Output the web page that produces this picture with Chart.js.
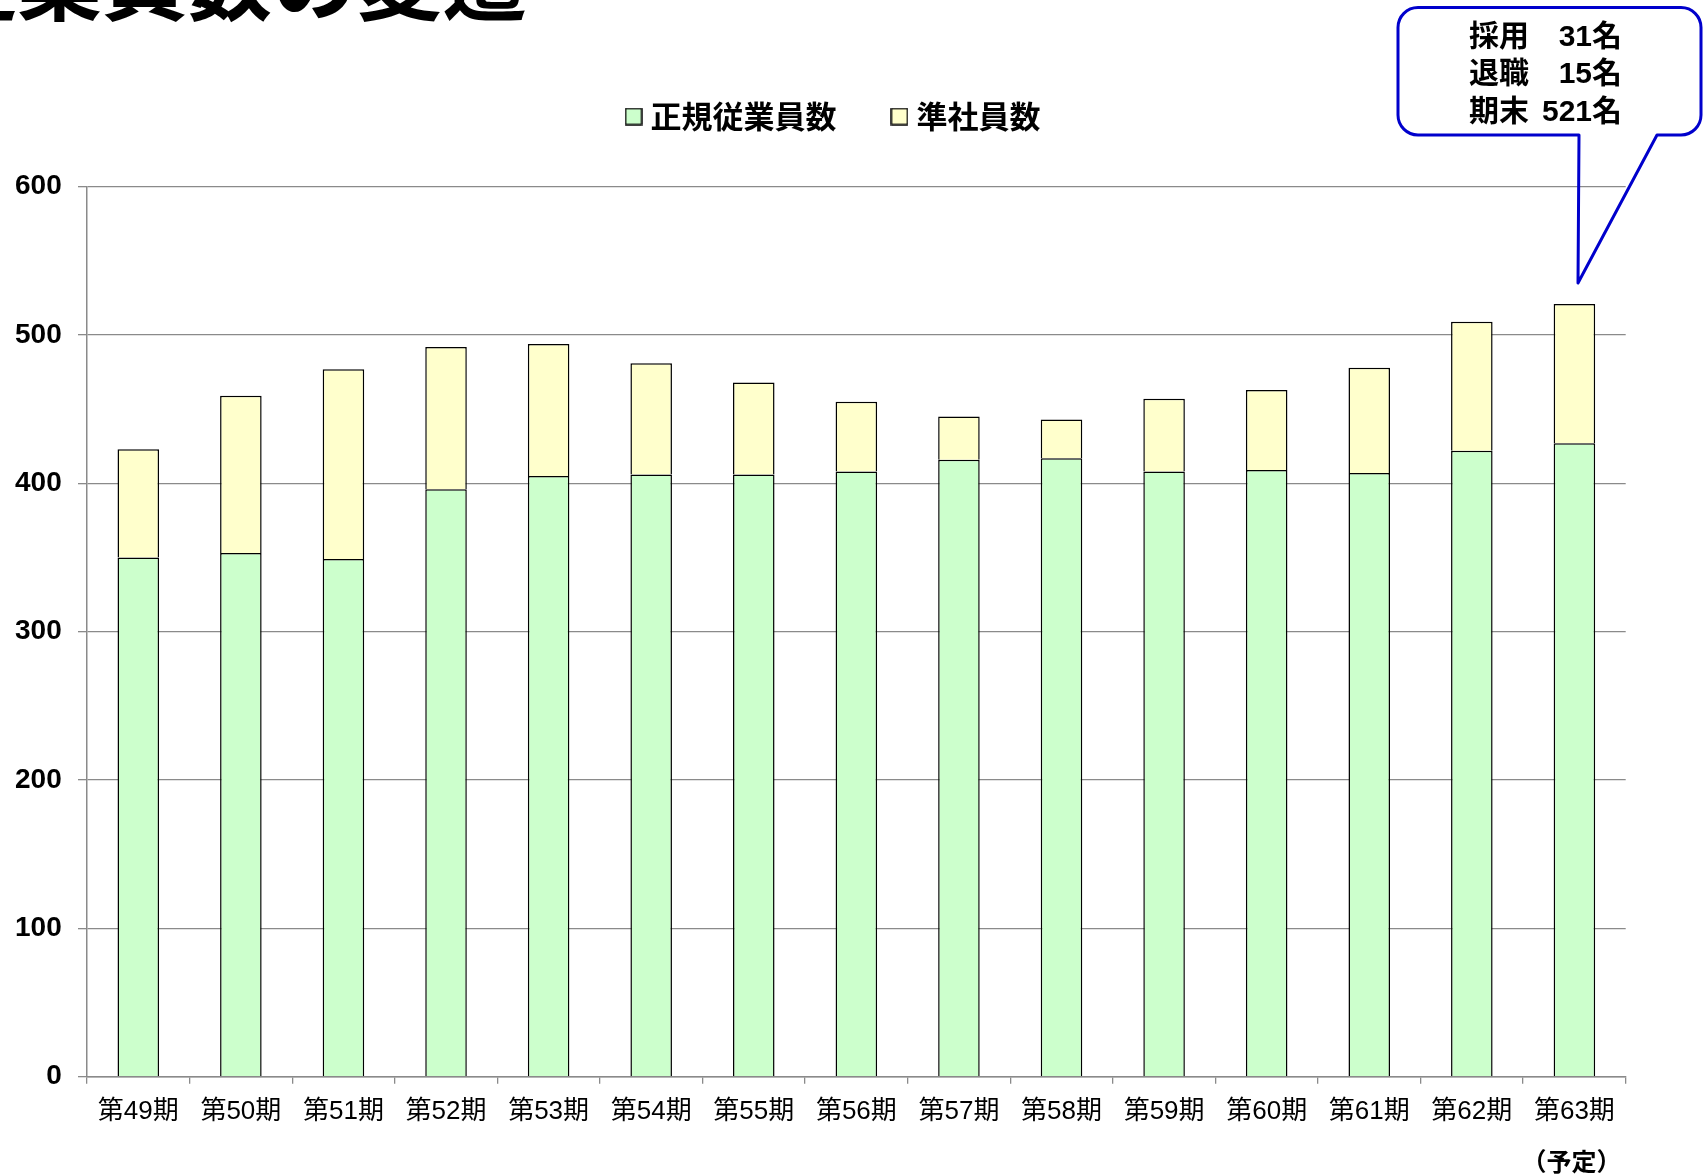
<!DOCTYPE html>
<html><head><meta charset="utf-8">
<script src="https://cdn.jsdelivr.net/npm/chart.js@4"></script>
<style>html,body{margin:0;padding:0;background:#fff}canvas{display:block}</style>
</head><body>
<canvas id="c" width="1704" height="1176"></canvas>
<script>
const categories = ['第49期','第50期','第51期','第52期','第53期','第54期','第55期','第56期','第57期','第58期','第59期','第60期','第61期','第62期','第63期'];
const regularStaff = [350,353,349,396,405,406,406,408,416,417,408,409,407,422,427];
const associateStaff = [73,106,128,96,89,75,62,47,29,26,49,54,71,87,94];
const seriesNames = ['正規従業員数','準社員数'];
const yTicks = [0,100,200,300,400,500,600];
const titleText = '従業員数の変遷';
const noteText = '（予定）';
const calloutLabels = ['採用','退職','期末'];
const calloutValues = ['31名','15名','521名'];

const GRID = '#8a8a8a';

function legendSwatch(fill) {
  const c = document.createElement('canvas');
  c.width = 18; c.height = 18;
  const g = c.getContext('2d');
  g.fillStyle = fill;
  g.fillRect(1, 1, 16, 16);
  g.lineWidth = 1.5;
  g.strokeStyle = '#000';
  g.strokeRect(1, 1, 16, 16);
  return c;
}

const legendSpacer = {
  id: 'legendSpacer',
  beforeLayout(chart) {
    const lg = chart.legend;
    if (lg && !lg._spaced) {
      const orig = lg.fit;
      lg.fit = function () { orig.call(this); this.height += 44.7; };
      lg._spaced = true;
    }
  },
  afterLayout(chart) {
    const lg = chart.legend;
    if (lg) { lg.left += 16.4; lg.right += 16.4; }
  }
};

const extras = {
  id: 'extras',
  afterDraw(chart) {
    const ctx = chart.ctx;
    const xs = chart.scales.x;
    ctx.save();
    ctx.fillStyle = '#000';
    ctx.font = 'bold 85px "Noto Sans CJK JP"';
    ctx.textAlign = 'left';
    ctx.textBaseline = 'alphabetic';
    ctx.fillText(titleText, -68, 14);
    ctx.font = 'bold 25px "Noto Sans CJK JP"';
    ctx.textAlign = 'center';
    ctx.textBaseline = 'middle';
    ctx.fillText(noteText, xs.getPixelForValue(categories.length - 1) - 3, xs.top + 84.5);
    const L = 1398, T = 7.5, R = 1701, B = 135, r = 20;
    const tipX = 1578, tipY = 283, baseL = 1579, baseR = 1657;
    ctx.beginPath();
    ctx.moveTo(L + r, T);
    ctx.lineTo(R - r, T);
    ctx.arcTo(R, T, R, T + r, r);
    ctx.lineTo(R, B - r);
    ctx.arcTo(R, B, R - r, B, r);
    ctx.lineTo(baseR, B);
    ctx.lineTo(tipX, tipY);
    ctx.lineTo(baseL, B);
    ctx.lineTo(L + r, B);
    ctx.arcTo(L, B, L, B - r, r);
    ctx.lineTo(L, T + r);
    ctx.arcTo(L, T, L + r, T, r);
    ctx.closePath();
    ctx.lineWidth = 3;
    ctx.strokeStyle = '#0000cc';
    ctx.lineJoin = 'round';
    ctx.stroke();
    ctx.fillStyle = '#000';
    ctx.font = 'bold 30px "Liberation Sans", "Noto Sans CJK JP"';
    ctx.textBaseline = 'middle';
    for (let i = 0; i < calloutLabels.length; i++) {
      const y = 37.5 + i * 37.7;
      ctx.textAlign = 'left';
      ctx.fillText(calloutLabels[i], 1469, y);
      ctx.textAlign = 'right';
      ctx.fillText(calloutValues[i], 1622, y);
    }
    ctx.restore();
  }
};

new Chart(document.getElementById('c'), {
  type: 'bar',
  data: {
    labels: categories,
    datasets: [
      { label: seriesNames[0], data: regularStaff, backgroundColor: '#ccffcc', borderColor: '#000', borderWidth: 1.5, categoryPercentage: 1, barPercentage: 0.405 },
      { label: seriesNames[1], data: associateStaff, backgroundColor: '#ffffcc', borderColor: '#000', borderWidth: 1.5, categoryPercentage: 1, barPercentage: 0.405 }
    ]
  },
  options: {
    responsive: false,
    animation: false,
    devicePixelRatio: 1,
    layout: { padding: { left: 14, right: 78.3, top: 39.5, bottom: 0 } },
    plugins: {
      legend: {
        position: 'top',
        align: 'center',
        labels: {
          usePointStyle: true, pointStyleWidth: 3,
          boxWidth: 16, boxHeight: 16, padding: 61.5, color: '#000',
          font: { family: '"Noto Sans CJK JP"', weight: 'bold', size: 31 },
          generateLabels(chart) {
            const items = Chart.defaults.plugins.legend.labels.generateLabels(chart);
            items.forEach(it => { it.pointStyle = legendSwatch(chart.data.datasets[it.datasetIndex].backgroundColor); });
            return items;
          }
        }
      },
      title: { display: false },
      tooltip: { enabled: false }
    },
    scales: {
      x: {
        stacked: true,
        offset: true,
        grid: { display: true, offset: true, drawOnChartArea: false, drawTicks: true, tickLength: 7, color: GRID, lineWidth: 1.3 },
        border: { display: true, color: GRID, width: 1.5 },
        ticks: { color: '#000', padding: 12.3, maxRotation: 0, autoSkip: false, font: { family: '"Liberation Sans", "Noto Sans CJK JP"', size: 26 } },
        afterFit(s) { s.height = 99.3; }
      },
      y: {
        stacked: true,
        min: 0, max: 600,
        afterBuildTicks(s) { s.ticks = yTicks.map(v => ({ value: v })); },
        grid: { color: GRID, lineWidth: 1.3, tickLength: 9, drawTicks: true },
        border: { display: true, color: GRID, width: 1.5 },
        ticks: { color: '#000', padding: 16.3, font: { family: '"Liberation Sans", Arial, sans-serif', weight: 'bold', size: 28 } },
        afterFit(s) { s.width = 73; }
      }
    }
  },
  plugins: [legendSpacer, extras]
});
</script>
</body></html>
